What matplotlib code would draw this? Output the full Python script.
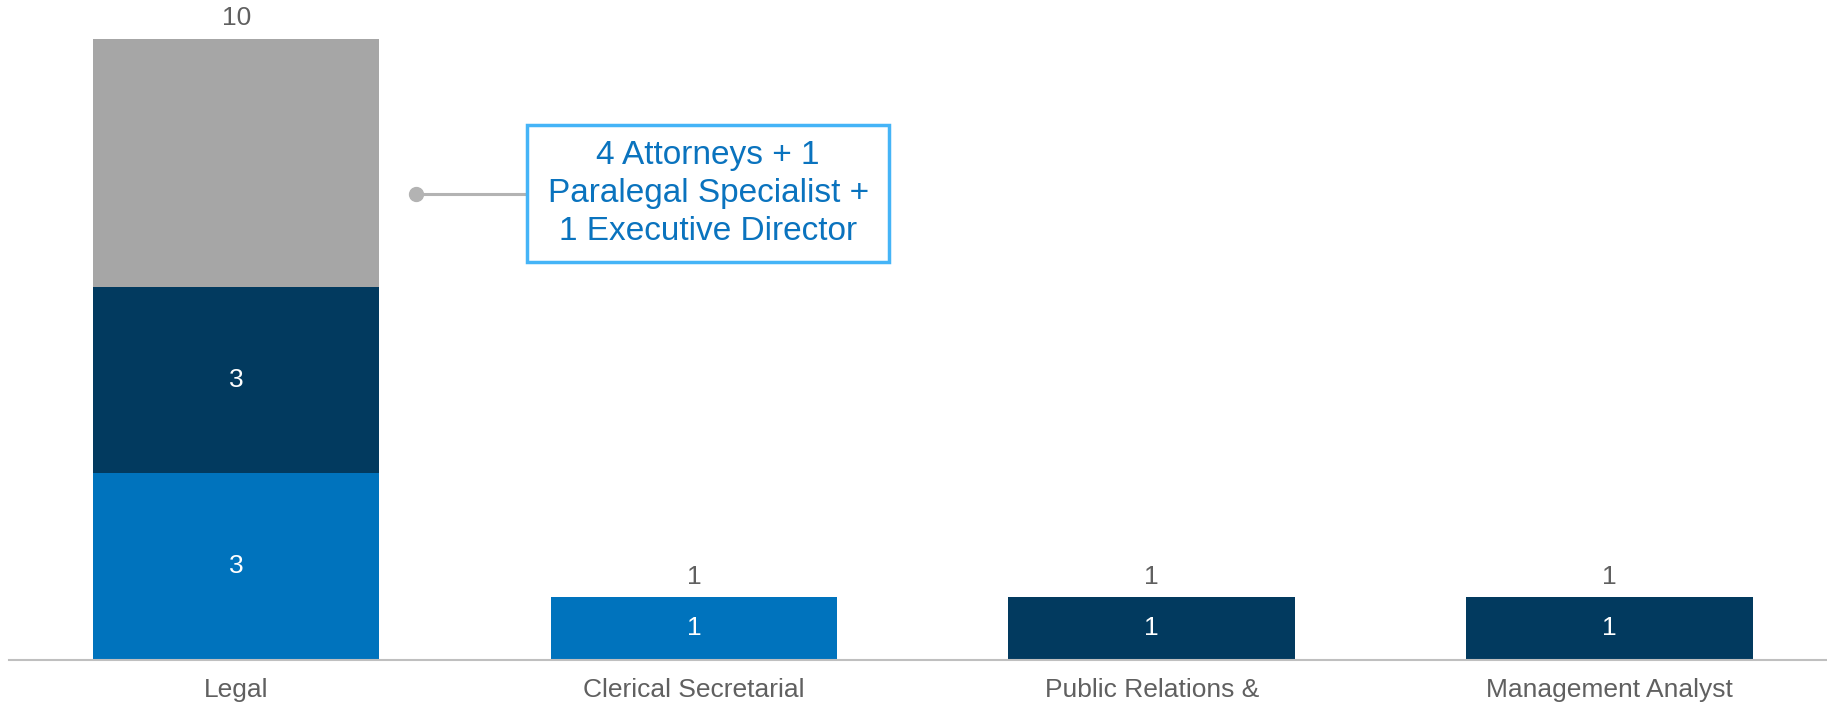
import numpy as np
import matplotlib.pyplot as plt
from matplotlib.patches import Rectangle

# data
categories = ["Legal", "Clerical Secretarial", "Public Relations &", "Management Analyst"]
blue_vals = [3, 1, 0, 0]
navy_vals = [3, 0, 1, 1]
gray_vals = [4, 0, 0, 0]
totals = [10, 1, 1, 1]
note_text = "4 Attorneys + 1\nParalegal Specialist +\n1 Executive Director"

BLUE = "#0073BD"
NAVY = "#023A5F"
GRAY = "#A6A6A6"
TXT = "#606060"

plt.rcParams['font.family'] = ['Liberation Sans', 'DejaVu Sans']

fig = plt.figure(figsize=(18.27, 7.05), dpi=100)
ax = fig.add_axes([0.005, 0.0645, 0.995, 0.9355])

x = np.arange(len(categories))
w = 0.626
b1 = ax.bar(x, blue_vals, w, color=BLUE)
b2 = ax.bar(x, navy_vals, w, bottom=blue_vals, color=NAVY)
bottom3 = np.array(blue_vals) + np.array(navy_vals)
b3 = ax.bar(x, gray_vals, w, bottom=bottom3, color=GRAY)

# labels inside segments (blue + navy only)
for rects, vals in ((b1, blue_vals), (b2, navy_vals)):
    for r, v in zip(rects, vals):
        if v > 0:
            ax.text(r.get_x() + r.get_width() / 2, r.get_y() + r.get_height() / 2, str(v),
                    ha='center', va='center', color='white', fontsize=19)

# totals
for xi, t in zip(x, totals):
    ax.annotate(str(t), (xi, t), xytext=(0, 15), textcoords='offset points',
                ha='center', va='center', color=TXT, fontsize=19)

ax.set_xlim(-0.496, 3.475)
ax.set_ylim(0, 10.62)
ax.set_xticks(x)
ax.set_xticklabels(categories, fontsize=19, color=TXT)
ax.tick_params(axis='x', length=0, pad=13)
ax.set_yticks([])
for s in ('top', 'right', 'left'):
    ax.spines[s].set_visible(False)
ax.spines['bottom'].set_color('#BFBFBF')
ax.spines['bottom'].set_linewidth(1.5)

# callout
ax.plot([0.392, 0.636], [7.5, 7.5], color='#B3B3B3', lw=2.2, zorder=3)
ax.plot([0.392], [7.5], 'o', color='#B3B3B3', ms=10, zorder=3)
ax.add_patch(Rectangle((0.636, 6.40), 1.426 - 0.636, 8.61 - 6.40, fill=True,
                       facecolor='white', edgecolor='#45B4F7', lw=2.5, zorder=4))
ax.text((0.636 + 1.426) / 2, 7.5, note_text, ha='center', va='center',
        color='#0A73BE', fontsize=24, linespacing=1.3, zorder=5)

fig.savefig("out.png", dpi=100)
